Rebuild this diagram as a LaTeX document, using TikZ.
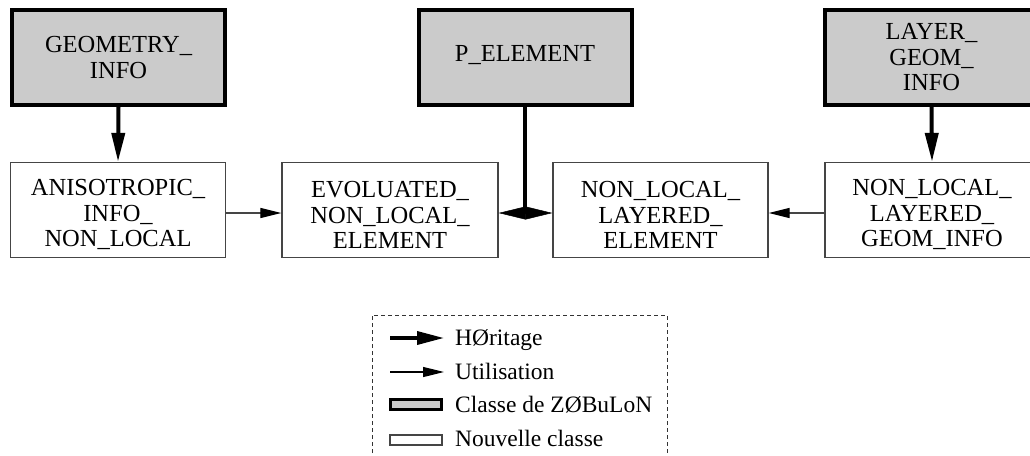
\documentclass[tikz,border=0pt]{standalone}
\usepackage{fontspec}
\setmainfont{Liberation Serif}
\usetikzlibrary{arrows.meta}
\definecolor{zgray}{HTML}{CBCBCB}
\definecolor{bord}{HTML}{454545}
\newcommand{\topstrut}{\rule{0pt}{26pt}}
\tikzset{
  graybox/.style={draw=black, line width=4pt, fill=zgray, minimum width=213pt, minimum height=95pt, inner sep=0pt, align=center, font=\fontsize{24.5}{25.5}\selectfont},
  whitebox/.style={draw=bord, line width=1.3pt, fill=white, minimum width=215pt, minimum height=95pt, inner sep=0pt, align=center, font=\fontsize{24.5}{25.5}\selectfont},
  heritage/.style={line width=4pt, -{Triangle[length=29pt,width=13pt]}},
  herhead/.style={line width=0.5pt, -{Triangle[length=27pt,width=13pt]}},
  utilisation/.style={draw=bord, line width=1.2pt, -{Triangle[length=21pt,width=10pt,color=black]}},
  legtext/.style={anchor=base west, inner sep=0pt, font=\fontsize{23.5}{25.5}\selectfont},
}
\begin{document}
\begin{tikzpicture}[x=1pt,y=-1pt]
\useasboundingbox (0,0) rectangle (1030,455);
% classes
\node[graybox] (geom) at (118.5,57.5) {GEOMETRY\_\\INFO};
\node[graybox, text depth=9pt] (pel) at (525,57.5) {P\_ELEMENT};
\node[graybox] (lgeom) at (931.5,57.5) {LAYER\_\\GEOM\_\\INFO};
\node[whitebox] (anis) at (118,210) {\topstrut ANISOTROPIC\_\\INFO\_\\NON\_LOCAL};
\node[whitebox, minimum width=216pt] (evol) at (390,210) {\topstrut EVOLUATED\_\\NON\_LOCAL\_\\ELEMENT};
\node[whitebox] (nlle) at (660.5,210) {\topstrut NON\_LOCAL\_\\LAYERED\_\\ELEMENT};
\node[whitebox, minimum width=214pt] (nllg) at (932,210) {\topstrut NON\_LOCAL\_\\LAYERED\_\\GEOM\_INFO};
% connectors
\draw[heritage] (geom.south) -- (anis.north);
\draw[heritage] (lgeom.south) -- (nllg.north);
\coordinate (j) at (525,213);
\draw[line width=4pt] (pel.south) -- (j);
\draw[herhead] (j) -- (evol.east |- j);
\draw[herhead] (j) -- (nlle.west |- j);
\draw[utilisation] (anis.east |- j) -- (evol.west |- j);
\draw[utilisation] (nllg.west |- j) -- (nlle.east |- j);
% legend
\draw[black!80, line width=1pt, dash pattern=on 4pt off 3pt] (372,460) -- (372,315) -- (667,315) -- (667,460);
\coordinate (h1) at (390,338); \coordinate (h2) at (444,338);
\coordinate (u1) at (390,372); \coordinate (u2) at (444,372);
\draw[line width=3.5pt, -{Triangle[length=27pt,width=13pt]}] (h1) -- (h2);
\draw[line width=1.2pt, black, -{Triangle[length=21pt,width=10pt]}] (u1) -- (u2);
\node[draw=black, line width=3pt, fill=zgray, minimum width=51pt, minimum height=10pt, inner sep=0pt] (lg) at (416,404.5) {};
\node[draw=bord, line width=1.2pt, fill=white, minimum width=52pt, minimum height=10pt, inner sep=0pt] (lw) at (416,440) {};
\node[legtext] (t1) at (455,345) {HØritage};
\node[legtext] (t2) at (455,379) {Utilisation};
\node[legtext] (t3) at (455,412) {Classe de ZØBuLoN};
\node[legtext] (t4) at (455,446) {Nouvelle classe};
\end{tikzpicture}
\end{document}
